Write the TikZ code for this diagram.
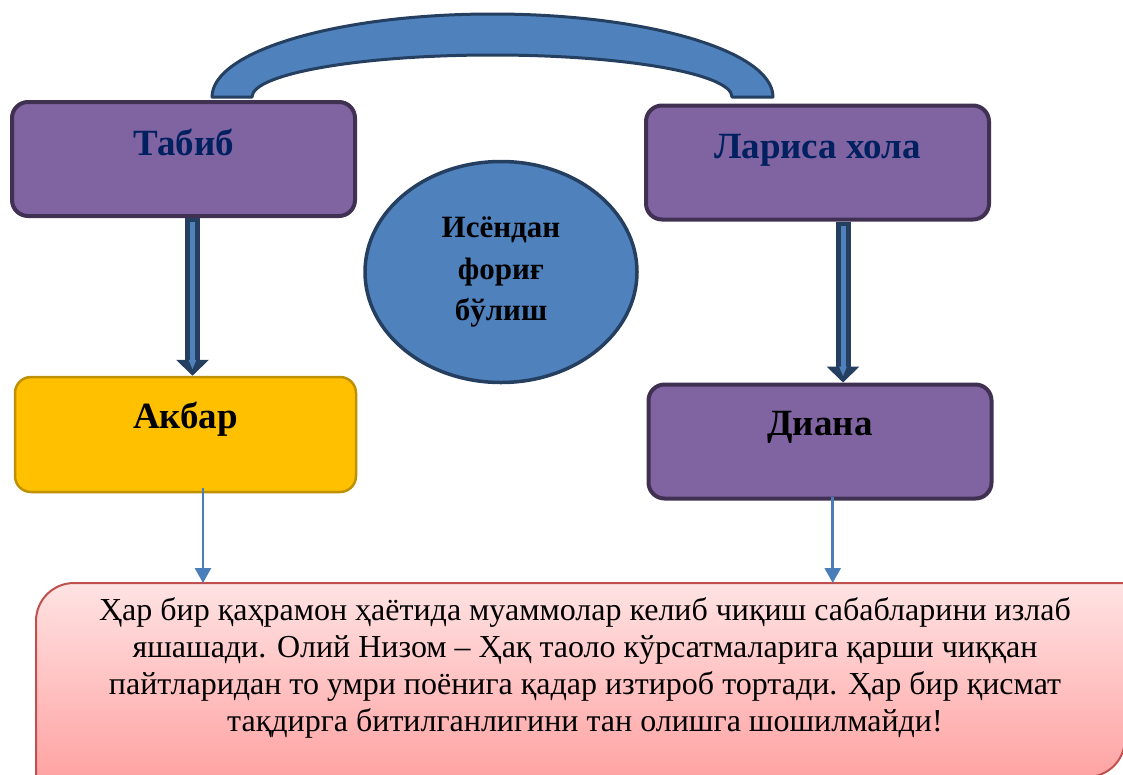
\documentclass[tikz,border=0pt]{standalone}
\usepackage{fontspec}
\setmainfont{Liberation Serif}
\usetikzlibrary{arrows.meta,shapes.geometric}

\definecolor{purplefill}{HTML}{8064A2}
\definecolor{purpleline}{HTML}{403152}
\definecolor{gold}{HTML}{FFC000}
\definecolor{goldline}{HTML}{BF9000}
\definecolor{bluefill}{HTML}{4F81BD}
\definecolor{blueline}{HTML}{243F60}
\definecolor{thinblue}{HTML}{4A7EBB}
\definecolor{navytext}{HTML}{002060}
\definecolor{notetop}{HTML}{FFE3E3}
\definecolor{notebottom}{HTML}{FFA3A3}
\definecolor{noteline}{HTML}{C0504D}

\tikzset{
  person/.style={rectangle, rounded corners=16pt, minimum width=343pt, minimum height=114pt,
    inner sep=0pt, fill=purplefill, draw=purpleline, line width=4pt,
    font=\fontsize{37}{40}\selectfont\bfseries, text height=20pt},
  bigarrow/.style={draw=blueline, line width=15pt, -{Triangle[width=32pt,length=16pt]}},
  bigarrowin/.style={draw=bluefill, line width=5pt, shorten >=6pt, -{Triangle[width=7pt,length=10pt]}},
  thinarrow/.style={draw=thinblue, line width=2.5pt, -{Triangle[width=16pt,length=15pt]}}
}

\begin{document}
\begin{tikzpicture}[x=1pt, y=-1pt]
\useasboundingbox (0,0) rectangle (1123,774);

% arch over the two top boxes
\draw[fill=bluefill, draw=blueline, line width=3pt, line join=round]
  (212,97) .. controls (212,51.2) and (337.6,14) .. (492.5,14)
  .. controls (647.4,14) and (773,51.2) .. (773,97) -- (732,97)
  .. controls (732,73.8) and (625.1,55) .. (492.5,55)
  .. controls (359.9,55) and (252,73.8) .. (252,97) -- cycle;

% boxes
\node[person, text=navytext, text depth=28pt] (tabib) at (183.5,159) {Табиб};
\node[person, text=navytext, text depth=29pt] (larisa) at (817.5,162.5) {Лариса хола};
\node[person, fill=gold, draw=goldline, line width=2.5pt, minimum width=341pt, minimum height=115pt,
      text depth=33pt] (akbar) at (185.5,434.5) {Акбар};
\node[person, text depth=33pt] (diana) at (820,441.5) {Диана};

\node[ellipse, fill=bluefill, draw=blueline, line width=3.5pt, minimum width=272pt, minimum height=221pt,
      align=center, font=\fontsize{31}{41.5}\selectfont\bfseries] (goal) at (501,272)
  {Исёндан\\фориғ\\бўлиш};

% block arrows
\draw[bigarrow] ([xshift=9pt]tabib.south) -- ([xshift=9pt]tabib.south |- akbar.north);
\draw[bigarrowin] ([xshift=9pt,yshift=-4pt]tabib.south) -- ([xshift=9pt]tabib.south |- akbar.north);
\draw[bigarrow] ([xshift=25.5pt]larisa.south) -- ([xshift=25.5pt]larisa.south |- diana.north);
\draw[bigarrowin] ([xshift=25.5pt,yshift=-4pt]larisa.south) -- ([xshift=25.5pt]larisa.south |- diana.north);

% note at the bottom
\coordinate (notetop) at (585,583);
\path[draw=noteline, line width=2pt, top color=notetop, bottom color=notebottom]
  (1125,583) -- (74,583) .. controls (53,583) and (36,600) .. (36,621) -- (36,777)
  -- (1087,777) .. controls (1108,777) and (1125,760) .. (1125,739) -- cycle;
\node[align=center, font=\fontsize{32}{37}\selectfont] (note) at (585,668)
  {Ҳар бир қаҳрамон ҳаётида муаммолар келиб чиқиш сабабларини излаб\\
   яшашади. Олий Низом – Ҳақ таоло кўрсатмаларига қарши чиққан\\
   пайтларидан то умри поёнига қадар изтироб тортади. Ҳар бир қисмат\\
   тақдирга битилганлигини тан олишга шошилмайди!};

\draw[thinarrow] ([xshift=17.5pt,yshift=5pt]akbar.south) -- ([xshift=17.5pt]akbar.south |- notetop);
\draw[thinarrow] ([xshift=12.7pt,yshift=4pt]diana.south) -- ([xshift=12.7pt]diana.south |- notetop);
\end{tikzpicture}
\end{document}
